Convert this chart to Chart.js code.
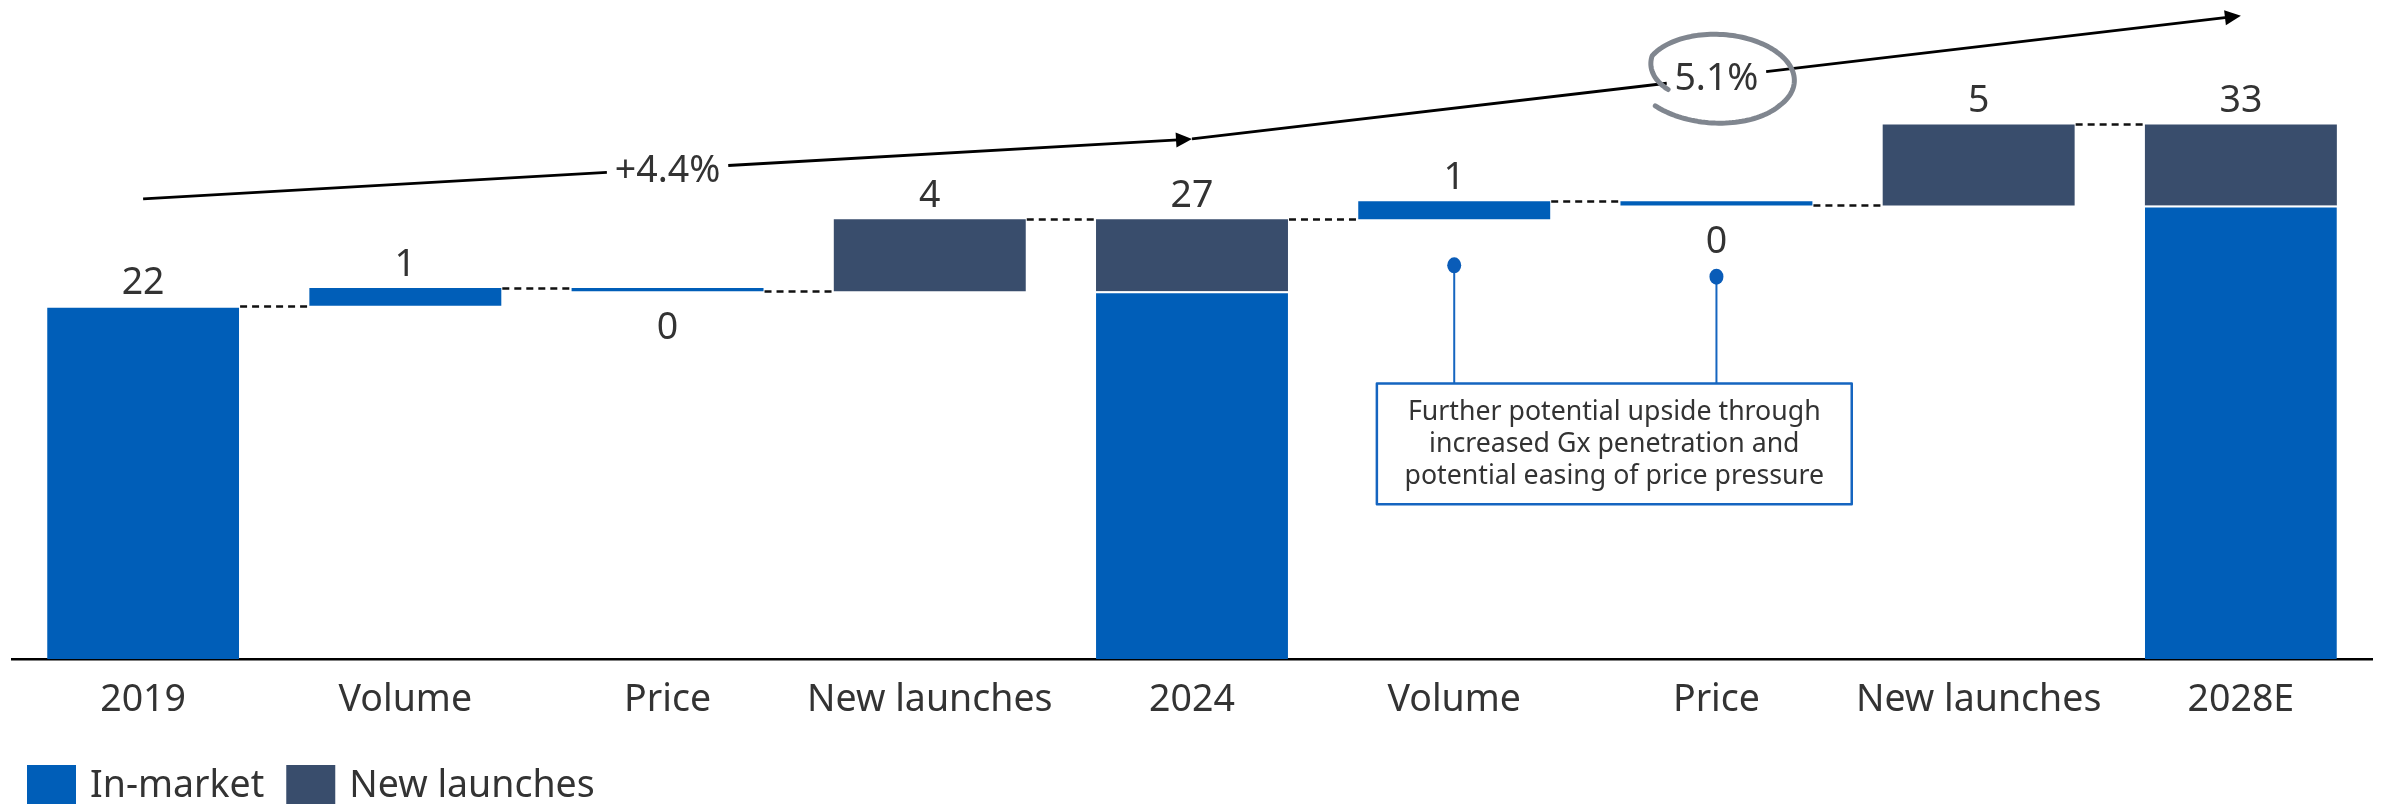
<!DOCTYPE html>
<html>
<head>
<meta charset="utf-8">
<script src="https://cdn.jsdelivr.net/npm/chart.js@4.4.1/dist/chart.umd.min.js"></script>
<style>
    html, body { margin: 0; padding: 0; background: #fff; }
    #wrap { width: 2384px; height: 804px; }
</style>
</head>
<body>
<div id="wrap"><canvas id="bridgeChart" width="2384" height="804"></canvas></div>
<script>
// Sales bridge 2019 -> 2024 -> 2028E (waterfall with floating bars)

const categories = ['2019', 'Volume', 'Price', 'New launches', '2024', 'Volume', 'Price', 'New launches', '2028E'];
// 'total' = stacked in-market + new launches, others are steps
const barKinds = ['total', 'inmarket', 'inmarket', 'launch', 'total', 'inmarket', 'inmarket', 'launch', 'total'];
const stepValues = [21.8, 1.1, -0.2, 4.45, null, 1.1, -0.25, 5.0, null];

const legendLabels = ['In-market', 'New launches'];
const seriesColors = ['#005EB8', '#394D6C'];

// CAGR arrows, ends given as [category index, value]
const cagrLabels = ['+4.4%', '5.1%'];
const cagrFrom = [[0, 28.4], [4, 32.1]];
const cagrTo = [[4, 32.1], [8, 39.7]];

// callout note
const noteLines = ['Further potential upside through', 'increased Gx penetration and', 'potential easing of price pressure'];
const noteTargets = [[5, 24.3], [6, 23.6]];
const noteBox = { left: 4.705, right: 6.516, top: 17.0, bottom: 9.55 };

const FONT = "'Noto Sans', 'Open Sans', sans-serif";
const TEXT = '#333333';
const BAR_PCT = 0.732;
const FS = 37.5;

// build floating bars
const inMarketBars = [];
const launchBars = [];
const labelValues = [];
const labelAnchors = []; // [value, above?]
const levels = [];
let running = 0;
let lastLaunch = 0;

barKinds.forEach((kind, i) => {
    if (kind === 'total') {
        if (i === 0) running = stepValues[0];
        const base = running - lastLaunch;
        inMarketBars.push([0, base]);
        launchBars.push(lastLaunch ? [base, running] : null);
        labelValues.push(Math.round(running));
        labelAnchors.push([running, true]);
        lastLaunch = 0;
    } else {
        const start = running;
        running += stepValues[i];
        const pair = [Math.min(start, running), Math.max(start, running)];
        if (kind === 'launch') {
            launchBars.push(pair);
            inMarketBars.push(null);
            lastLaunch += stepValues[i];
        } else {
            inMarketBars.push(pair);
            launchBars.push(null);
        }
        labelValues.push(Math.abs(Math.round(stepValues[i])));
        labelAnchors.push(stepValues[i] >= 0 ? [pair[1], true] : [pair[0], false]);
    }
    levels.push(running);
});

function drawArrow(ctx, x0, y0, x1, y1, label) {
    const dx = x1 - x0, dy = y1 - y0;
    const len = Math.hypot(dx, dy);
    const ux = dx / len, uy = dy / len;
    const mx = x0 + dx * 0.5, my = y0 + dy * 0.5;
    ctx.font = `${FS}px ${FONT}`;
    const gap = ctx.measureText(label).width / 2 + 8;
    const head = 16;

    ctx.strokeStyle = '#000';
    ctx.lineWidth = 2.8;
    ctx.setLineDash([]);
    ctx.beginPath();
    ctx.moveTo(x0, y0);
    ctx.lineTo(mx - ux * gap, my - uy * gap);
    ctx.moveTo(mx + ux * gap, my + uy * gap);
    ctx.lineTo(x1 - ux * head * 0.6, y1 - uy * head * 0.6);
    ctx.stroke();

    // arrow head
    ctx.fillStyle = '#000';
    ctx.beginPath();
    ctx.moveTo(x1, y1);
    ctx.lineTo(x1 - ux * head - uy * 7.5, y1 - uy * head + ux * 7.5);
    ctx.lineTo(x1 - ux * head + uy * 7.5, y1 - uy * head - ux * 7.5);
    ctx.closePath();
    ctx.fill();

    ctx.fillStyle = TEXT;
    ctx.textAlign = 'center';
    ctx.textBaseline = 'middle';
    ctx.fillText(label, mx, my + 2);
    return [mx, my];
}

const bridgeExtras = {
    id: 'bridgeExtras',
    afterDatasetsDraw(chart) {
        const ctx = chart.ctx;
        const xs = chart.scales.x;
        const ys = chart.scales.y;
        const half = xs.width / categories.length * BAR_PCT / 2;

        ctx.save();

        // dashed connectors
        ctx.strokeStyle = '#111';
        ctx.lineWidth = 2.5;
        ctx.setLineDash([7, 5]);
        for (let i = 0; i < categories.length - 1; i++) {
            const y = Math.round(ys.getPixelForValue(levels[i])) + 0.5;
            ctx.beginPath();
            ctx.moveTo(xs.getPixelForValue(i) + half + 1, y);
            ctx.lineTo(xs.getPixelForValue(i + 1) - half - 1, y);
            ctx.stroke();
        }
        ctx.setLineDash([]);

        // value labels
        ctx.font = `${FS}px ${FONT}`;
        ctx.fillStyle = TEXT;
        ctx.textAlign = 'center';
        ctx.textBaseline = 'alphabetic';
        labelValues.forEach((v, i) => {
            const [val, above] = labelAnchors[i];
            const py = ys.getPixelForValue(val);
            ctx.fillText(String(v), xs.getPixelForValue(i), above ? py - 12 : py + 48);
        });

        // CAGR arrows
        const mids = cagrLabels.map((lab, k) => drawArrow(ctx,
            xs.getPixelForValue(cagrFrom[k][0]), ys.getPixelForValue(cagrFrom[k][1]),
            xs.getPixelForValue(cagrTo[k][0]), ys.getPixelForValue(cagrTo[k][1]), lab));

        // hand drawn ring round the second CAGR, open at lower left
        const [cx, cy] = mids[1];
        ctx.strokeStyle = '#80868F';
        ctx.lineWidth = 5;
        ctx.lineCap = 'round';
        ctx.lineJoin = 'round';
        ctx.beginPath();
        const rot = 0.06;
        const a0 = 2.66, a1 = 8.69;
        const steps = 140;
        for (let s = 0; s <= steps; s++) {
            const t = s / steps;
            const a = a0 + (a1 - a0) * t;
            const r = t < 0.15 ? 0.76 + 0.24 * (t / 0.15) : 1 + 0.12 * Math.max(0, (t - 0.7) / 0.3);
            const ex = 75 * r * Math.cos(a), ey = 43 * r * Math.sin(a);
            const px = cx + 3 + ex * Math.cos(rot) - ey * Math.sin(rot);
            const py = cy + ex * Math.sin(rot) + ey * Math.cos(rot);
            if (s === 0) ctx.moveTo(px, py); else ctx.lineTo(px, py);
        }
        ctx.stroke();
        ctx.lineCap = 'butt';

        // callout
        const boxL = xs.getPixelForValue(noteBox.left);
        const boxR = xs.getPixelForValue(noteBox.right);
        const boxT = ys.getPixelForValue(noteBox.top);
        const boxB = ys.getPixelForValue(noteBox.bottom);
        ctx.strokeStyle = '#1565C0';
        ctx.fillStyle = '#0A5CB8';
        ctx.lineWidth = 2;
        noteTargets.forEach(([idx, val]) => {
            const px = xs.getPixelForValue(idx);
            const py = ys.getPixelForValue(val);
            ctx.beginPath();
            ctx.moveTo(px, py);
            ctx.lineTo(px, boxT);
            ctx.stroke();
            ctx.beginPath();
            ctx.ellipse(px, py, 7, 8, 0, 0, Math.PI * 2);
            ctx.fill();
        });
        ctx.fillStyle = '#fff';
        ctx.fillRect(boxL, boxT, boxR - boxL, boxB - boxT);
        ctx.lineWidth = 2.5;
        ctx.strokeRect(boxL, boxT, boxR - boxL, boxB - boxT);
        ctx.font = `26.7px ${FONT}`;
        ctx.fillStyle = TEXT;
        ctx.textBaseline = 'middle';
        const lh = 32;
        const firstY = (boxT + boxB) / 2 - lh * (noteLines.length - 1) / 2;
        noteLines.forEach((line, k) => ctx.fillText(line, (boxL + boxR) / 2, firstY + k * lh));

        // legend
        ctx.font = `${FS}px ${FONT}`;
        ctx.textAlign = 'left';
        ctx.textBaseline = 'alphabetic';
        let lx = 27;
        legendLabels.forEach((lab, k) => {
            ctx.fillStyle = seriesColors[k];
            ctx.fillRect(lx, 765, 49, 39);
            ctx.fillStyle = TEXT;
            ctx.fillText(lab, lx + 63, 797);
            lx += 63 + ctx.measureText(lab).width + 22;
        });

        ctx.restore();
    }
};

new Chart(document.getElementById('bridgeChart'), {
    type: 'bar',
    data: {
        labels: categories,
        datasets: [
            {
                label: legendLabels[0],
                data: inMarketBars,
                backgroundColor: seriesColors[0],
                borderColor: '#ffffff',
                borderWidth: (c) => barKinds[c.dataIndex] === 'total' ? { top: 2, right: 0, bottom: 0, left: 0 } : 0,
                borderSkipped: false,
                grouped: false
            },
            {
                label: legendLabels[1],
                data: launchBars,
                backgroundColor: seriesColors[1],
                borderWidth: 0,
                grouped: false
            }
        ]
    },
    options: {
        responsive: false,
        animation: false,
        categoryPercentage: 1,
        barPercentage: BAR_PCT,
        layout: { padding: { top: 11, left: 12, right: 12, bottom: 62 } },
        plugins: {
            legend: { display: false },
            tooltip: { enabled: false }
        },
        scales: {
            x: {
                grid: { display: false, drawTicks: false },
                border: { display: true, color: '#000', width: 2.5 },
                ticks: {
                    color: TEXT,
                    font: { family: FONT, size: FS },
                    padding: 19,
                    maxRotation: 0,
                    autoSkip: false
                }
            },
            y: {
                display: false,
                min: 0,
                max: 40
            }
        }
    },
    plugins: [bridgeExtras]
});
</script>
</body>
</html>
